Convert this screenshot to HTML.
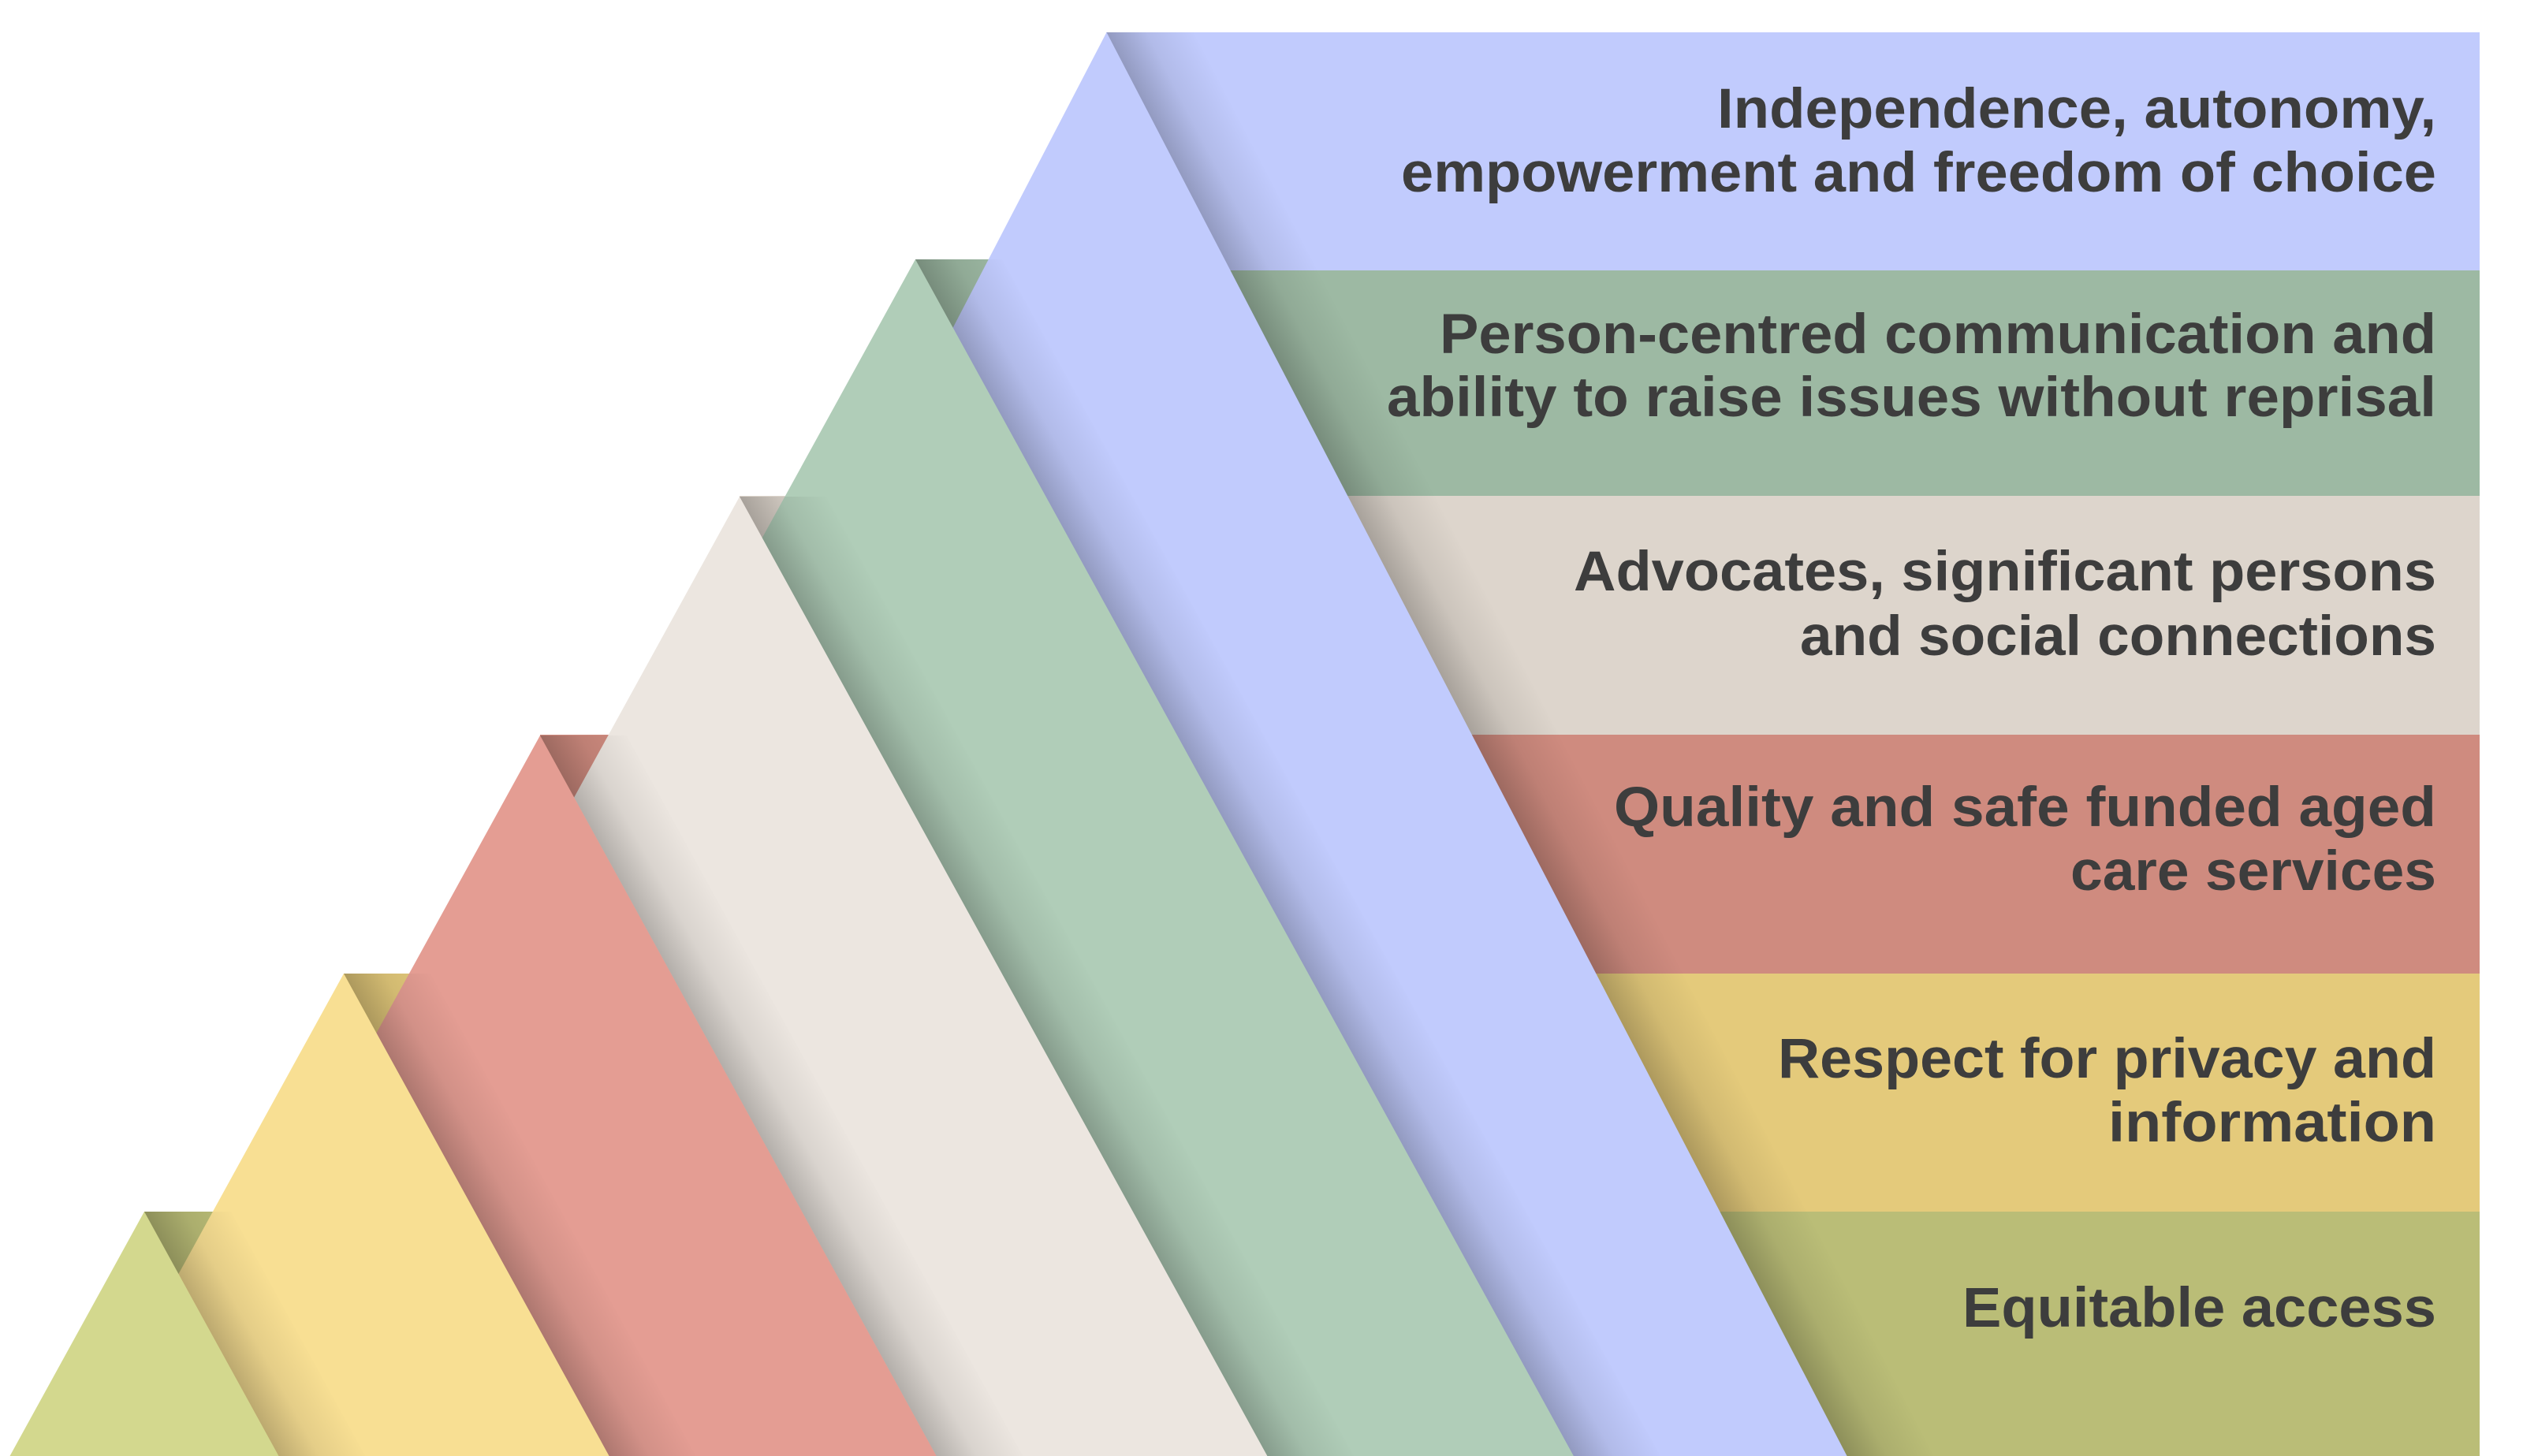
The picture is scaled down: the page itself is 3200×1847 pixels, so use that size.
<!DOCTYPE html>
<html><head><meta charset="utf-8"><style>
html,body{margin:0;padding:0;background:#fff;}
svg{display:block;}
text{font-family:"Liberation Sans",sans-serif;font-weight:bold;fill:#3d3d3d;font-size:71px;}
</style></head><body>
<svg width="3200" height="1847" viewBox="0 0 3200 1847" xmlns="http://www.w3.org/2000/svg">
<defs>
<linearGradient id="gB" gradientUnits="userSpaceOnUse" x1="1403.5" y1="41" x2="1492.3" y2="-5.2">
<stop offset="0" stop-color="#000" stop-opacity="0.24"/><stop offset="0.45" stop-color="#000" stop-opacity="0.08"/><stop offset="1" stop-color="#000" stop-opacity="0"/></linearGradient>
<linearGradient id="gG" gradientUnits="userSpaceOnUse" x1="1161" y1="329" x2="1248.6" y2="280.8">
<stop offset="0" stop-color="#000" stop-opacity="0.24"/><stop offset="0.45" stop-color="#000" stop-opacity="0.08"/><stop offset="1" stop-color="#000" stop-opacity="0"/></linearGradient>
<linearGradient id="gE" gradientUnits="userSpaceOnUse" x1="938" y1="630" x2="1025.6" y2="581.8">
<stop offset="0" stop-color="#000" stop-opacity="0.24"/><stop offset="0.45" stop-color="#000" stop-opacity="0.08"/><stop offset="1" stop-color="#000" stop-opacity="0"/></linearGradient>
<linearGradient id="gR" gradientUnits="userSpaceOnUse" x1="685" y1="933" x2="772.6" y2="884.8">
<stop offset="0" stop-color="#000" stop-opacity="0.24"/><stop offset="0.45" stop-color="#000" stop-opacity="0.08"/><stop offset="1" stop-color="#000" stop-opacity="0"/></linearGradient>
<linearGradient id="gY" gradientUnits="userSpaceOnUse" x1="436" y1="1235" x2="523.6" y2="1186.8">
<stop offset="0" stop-color="#000" stop-opacity="0.24"/><stop offset="0.45" stop-color="#000" stop-opacity="0.08"/><stop offset="1" stop-color="#000" stop-opacity="0"/></linearGradient>
<linearGradient id="gO" gradientUnits="userSpaceOnUse" x1="183" y1="1537" x2="270.6" y2="1488.8">
<stop offset="0" stop-color="#000" stop-opacity="0.24"/><stop offset="0.45" stop-color="#000" stop-opacity="0.08"/><stop offset="1" stop-color="#000" stop-opacity="0"/></linearGradient>
</defs>
<rect x="1403" y="41" width="1742" height="1806" fill="#c1cbfd"/>
<polygon points="1161,329 1420,329 1420,343 3145,343 3145,1847 1161,1847" fill="#9db9a3"/>
<rect x="938" y="629" width="2207" height="1218" fill="#ddd5cc"/>
<rect x="685" y="932" width="2460" height="915" fill="#cf8b7f"/>
<rect x="436" y="1235" width="2709" height="612" fill="#e4ca7b"/>
<rect x="183" y="1537" width="2962" height="310" fill="#babd77"/>

<polygon points="1403.5,41 2342.6,1847 464.4,1847" fill="#c1cbfd"/>
<polygon points="1403.5,41 1513.5,41 2452.6,1847 2342.6,1847" fill="url(#gB)"/>
<polygon points="1161,329 1995.9,1847 326.1,1847" fill="#b0cdb8"/>
<polygon points="1161,329 1271,329 2105.9,1847 1995.9,1847" fill="url(#gG)"/>
<polygon points="938,630 1607.4,1847 268.6,1847" fill="#ece6e0"/>
<polygon points="938,630 1048,630 1717.4,1847 1607.4,1847" fill="url(#gE)"/>
<polygon points="685,933 1187.7,1847 182.3,1847" fill="#e49d93"/>
<polygon points="685,933 795,933 1297.7,1847 1187.7,1847" fill="url(#gR)"/>
<polygon points="436,1235 772.6,1847 99.4,1847" fill="#f8df93"/>
<polygon points="436,1235 546,1235 882.6,1847 772.6,1847" fill="url(#gY)"/>
<polygon points="183,1537 353.5,1847 12.5,1847" fill="#d3d88e"/>
<polygon points="183,1537 293,1537 463.5,1847 353.5,1847" fill="url(#gO)"/>

<text x="2178" y="162" textLength="912" lengthAdjust="spacingAndGlyphs">Independence, autonomy,</text>
<text x="1777" y="243" textLength="1313" lengthAdjust="spacingAndGlyphs">empowerment and freedom of choice</text>
<text x="1826" y="448" textLength="1264" lengthAdjust="spacingAndGlyphs">Person-centred communication and</text>
<text x="1759" y="528" textLength="1331" lengthAdjust="spacingAndGlyphs">ability to raise issues without reprisal</text>
<text x="1996" y="749" textLength="1094" lengthAdjust="spacingAndGlyphs">Advocates, significant persons</text>
<text x="2283" y="831" textLength="807" lengthAdjust="spacingAndGlyphs">and social connections</text>
<text x="2047" y="1048" textLength="1043" lengthAdjust="spacingAndGlyphs">Quality and safe funded aged</text>
<text x="2626" y="1129" textLength="464" lengthAdjust="spacingAndGlyphs">care services</text>
<text x="2255" y="1367" textLength="835" lengthAdjust="spacingAndGlyphs">Respect for privacy and</text>
<text x="2674" y="1448" textLength="416" lengthAdjust="spacingAndGlyphs">information</text>
<text x="2489" y="1683" textLength="601" lengthAdjust="spacingAndGlyphs">Equitable access</text>
</svg>
</body></html>
